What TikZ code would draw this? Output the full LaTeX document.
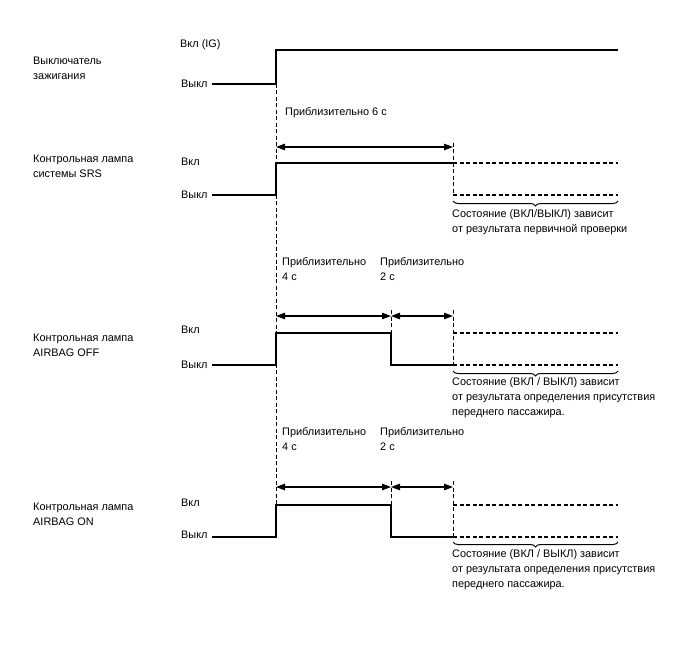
\documentclass[tikz,border=0pt]{standalone}
\usepackage{fontspec}
\setmainfont{Liberation Sans}
\usetikzlibrary{arrows.meta,decorations.pathreplacing,calc}
\tikzset{
  sig/.style={line width=1.5pt},
  sigdash/.style={line width=1.2pt,dash pattern=on 4pt off 2.5pt},
  guide/.style={line width=0.7pt,dash pattern=on 4pt off 2.5pt},
  span/.style={{Triangle[length=9pt,width=6.5pt]}-{Triangle[length=9pt,width=6.5pt]},line width=1.1pt},
  brc/.style={decorate,decoration={brace,mirror,amplitude=5pt},line width=1pt},
  txt/.style={font=\fontsize{10.9}{15}\selectfont,inner sep=0pt,align=left,anchor=west},
}

\begin{document}
\begin{tikzpicture}[x=1pt,y=-1pt]

\def\Ta{276}\def\Tb{391}\def\Tc{453}\def\Te{618}\def\Ts{212}
\useasboundingbox (0,0) rectangle (688,658);

% signal names
\node[txt] (IGname)  at (33,68)    {Выключатель\\зажигания};
\node[txt] (SRSname) at (33,166.5) {Контрольная лампа\\системы SRS};
\node[txt] (OFFname) at (33,345)   {Контрольная лампа\\AIRBAG OFF};
\node[txt] (ONname)  at (33,514.5) {Контрольная лампа\\AIRBAG ON};

% level labels
\node[txt] (IGhi)  at (180,45)  {Вкл (IG)};
\node[txt] (IGlo)  at (181,84)  {Выкл};
\node[txt] (SRShi) at (181,162) {Вкл};
\node[txt] (SRSlo) at (181,195) {Выкл};
\node[txt] (OFFhi) at (181,330) {Вкл};
\node[txt] (OFFlo) at (181,365) {Выкл};
\node[txt] (ONhi)  at (181,503) {Вкл};
\node[txt] (ONlo)  at (181,535) {Выкл};

% time labels
\node[txt] (T6)     at (285,113)   {Приблизительно 6 с};
\node[txt] (OFFt4)  at (282,269.5) {Приблизительно\\4 с};
\node[txt] (OFFt2)  at (380,269.5) {Приблизительно\\2 с};
\node[txt] (ONt4)   at (282,439.5) {Приблизительно\\4 с};
\node[txt] (ONt2)   at (380,439.5) {Приблизительно\\2 с};

% state notes
\node[txt] (SRSnote) at (452,222) {Состояние (ВКЛ/ВЫКЛ) зависит\\от результата первичной проверки};
\node[txt] (OFFnote) at (452,398) {Состояние (ВКЛ / ВЫКЛ) зависит\\от результата определения присутствия\\переднего пассажира.};
\node[txt] (ONnote)  at (452,570) {Состояние (ВКЛ / ВЫКЛ) зависит\\от результата определения присутствия\\переднего пассажира.};

% guide line at ignition on
\draw[guide] (\Ta,84) -- (\Ta,505);

% ignition switch
\draw[sig] (\Ts,84) -- (\Ta,84) -- (\Ta,50) -- (\Te,50);

% SRS
\draw[guide] (\Tc,143) -- (\Tc,195);
\draw[span] (\Ta,147) -- (\Tc,147);
\draw[sig] (\Ts,195) -- (\Ta,195) -- (\Ta,163) -- (\Tc,163);
\draw[sigdash] (\Tc,163) -- (\Te,163);
\draw[sigdash] (\Tc,195) -- (\Te,195);
\draw[brc] (\Tc,201) -- (\Te,201);

% AIRBAG OFF
\draw[guide] (\Tb,310) -- (\Tb,333);
\draw[guide] (\Tc,310) -- (\Tc,365);
\draw[span] (\Ta,316) -- (\Tb,316);
\draw[span] (\Tb,316) -- (\Tc,316);
\draw[sig] (\Ts,365) -- (\Ta,365) -- (\Ta,333) -- (\Tb,333) -- (\Tb,365) -- (\Tc,365);
\draw[sigdash] (\Tc,333) -- (\Te,333);
\draw[sigdash] (\Tc,365) -- (\Te,365);
\draw[brc] (\Tc,371) -- (\Te,371);

% AIRBAG ON
\draw[guide] (\Tb,481) -- (\Tb,505);
\draw[guide] (\Tc,481) -- (\Tc,537);
\draw[span] (\Ta,487) -- (\Tb,487);
\draw[span] (\Tb,487) -- (\Tc,487);
\draw[sig] (\Ts,537) -- (\Ta,537) -- (\Ta,505) -- (\Tb,505) -- (\Tb,537) -- (\Tc,537);
\draw[sigdash] (\Tc,505) -- (\Te,505);
\draw[sigdash] (\Tc,537) -- (\Te,537);
\draw[brc] (\Tc,542) -- (\Te,542);

\end{tikzpicture}
\end{document}
